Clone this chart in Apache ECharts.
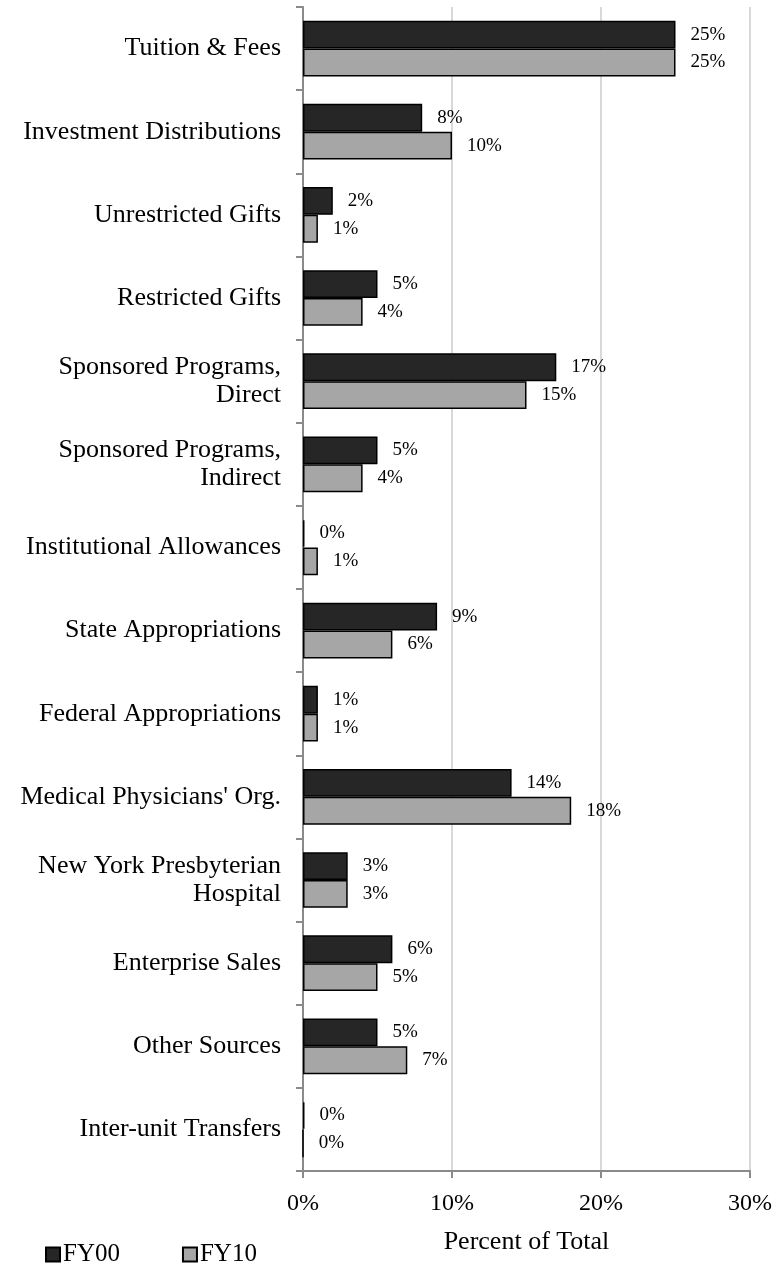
<!DOCTYPE html>
<html>
<head>
<meta charset="utf-8">
<script src="https://cdn.jsdelivr.net/npm/echarts@6/dist/echarts.min.js"></script>
<style>
html,body{margin:0;padding:0;background:#fff;}
#chart{width:775px;height:1266px;}
</style>
</head>
<body>
<div id="chart"></div>
<script>
const categories = [
  "Tuition & Fees",
  "Investment Distributions",
  "Unrestricted Gifts",
  "Restricted Gifts",
  "Sponsored Programs,\nDirect",
  "Sponsored Programs,\nIndirect",
  "Institutional Allowances",
  "State Appropriations",
  "Federal Appropriations",
  "Medical Physicians' Org.",
  "New York Presbyterian\nHospital",
  "Enterprise Sales",
  "Other Sources",
  "Inter-unit Transfers"
];
const seriesNames = ["FY00", "FY10"];
const fy00 = [25, 8, 2, 5, 17, 5, 0.1, 9, 1, 14, 3, 6, 5, 0.1];
const fy10 = [25, 10, 1, 4, 15, 4, 1, 6, 1, 18, 3, 5, 7, 0];
const xTicks = [0, 10, 20, 30];

const FONT = "'Liberation Serif', 'Times New Roman', serif";
const chart = echarts.init(document.getElementById('chart'), null, {renderer: 'canvas'});

function labelCfg() {
  return {
    show: true,
    position: 'right',
    distance: 15,
    color: '#000',
    fontFamily: FONT,
    fontSize: 19,
    formatter: p => Math.round(p.value) + '%'
  };
}

chart.setOption({
  animation: false,
  backgroundColor: '#fff',
  textStyle: {fontFamily: FONT, color: '#000'},
  grid: {left: 303, right: 25, top: 7, bottom: 95, containLabel: false},
  legend: {
    data: seriesNames,
    left: 40,
    top: 1237,
    itemWidth: 14,
    itemHeight: 14,
    itemGap: 62,
    icon: 'rect',
    textStyle: {fontFamily: FONT, fontSize: 25, color: '#000', padding: [0,0,0,-2]}
  },
  xAxis: {
    type: 'value',
    min: 0,
    max: 30,
    interval: 10,
    name: 'Percent of Total',
    nameLocation: 'middle',
    nameGap: 58,
    nameTextStyle: {fontFamily: FONT, fontSize: 26, color: '#000'},
    axisLine: {show: true, lineStyle: {color: '#8a8a8a', width: 2}},
    axisTick: {show: true, length: 7, lineStyle: {color: '#8a8a8a', width: 2}},
    axisLabel: {
      fontFamily: FONT, fontSize: 24, color: '#000', margin: 21,
      formatter: v => xTicks.includes(v) ? v + '%' : ''
    },
    splitLine: {show: true, lineStyle: {color: '#d9d9d9', width: 2}}
  },
  yAxis: {
    type: 'category',
    data: categories,
    inverse: true,
    axisLine: {show: true, lineStyle: {color: '#8a8a8a', width: 2}},
    axisTick: {show: true, length: 7, alignWithLabel: false, lineStyle: {color: '#8a8a8a', width: 2}},
    axisLabel: {
      fontFamily: FONT, fontSize: 26, color: '#000', margin: 22,
      lineHeight: 28, align: 'right', interval: 0
    },
    splitLine: {show: false}
  },
  series: [
    {
      name: seriesNames[0],
      type: 'bar',
      data: fy00,
      barGap: '0%',
      barCategoryGap: '33%',
      itemStyle: {color: '#262626', borderColor: '#000', borderWidth: 1.5},
      label: labelCfg()
    },
    {
      name: seriesNames[1],
      type: 'bar',
      data: fy10,
      barGap: '0%',
      barCategoryGap: '33%',
      itemStyle: {color: '#a6a6a6', borderColor: '#000', borderWidth: 1.5},
      label: labelCfg()
    }
  ]
});
</script>
</body>
</html>
